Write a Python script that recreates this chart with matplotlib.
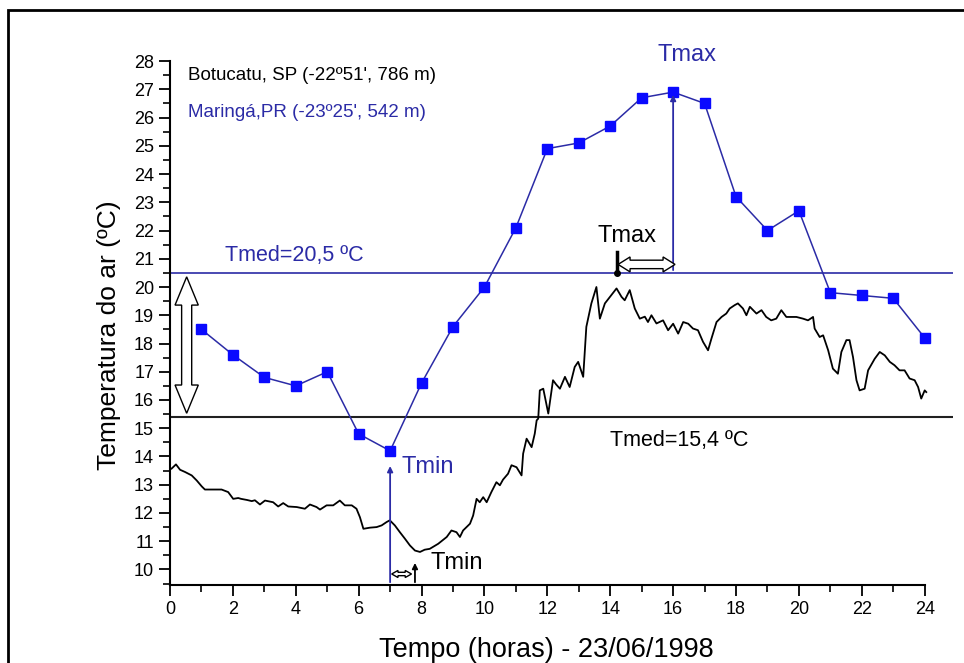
import matplotlib
matplotlib.use("Agg")
import matplotlib.pyplot as plt
from matplotlib.patches import Polygon, Rectangle
from matplotlib.ticker import MultipleLocator

plt.rcParams['font.family'] = ['Liberation Sans', 'DejaVu Sans']

# Maringá, PR - leituras horárias
hora_mga = list(range(1, 25))
temp_mga = [18.5, 17.6, 16.8, 16.5, 17.0, 14.8, 14.2, 16.6, 18.6, 20.0, 22.1, 24.9,
            25.1, 25.7, 26.7, 26.9, 26.5, 23.2, 22.0, 22.7, 19.8, 19.7, 19.6, 18.2]

# Botucatu, SP - registro contínuo (datalogger)
hora_bot = [0.05, 0.19, 0.32, 0.48, 0.69, 0.85, 1.01, 1.11, 1.64, 1.85, 2.01, 2.17, 2.26,
            2.45, 2.6, 2.7, 2.86, 3.02, 3.28, 3.44, 3.6, 3.76, 4.03, 4.29, 4.45, 4.66,
            4.77, 4.98, 5.19, 5.40, 5.56, 5.78, 5.93, 6.04, 6.15, 6.36, 6.57, 6.73, 6.89,
            6.99, 7.15, 7.31, 7.47, 7.63, 7.79, 7.95, 8.1, 8.26, 8.53, 8.8, 8.95, 9.11,
            9.22, 9.32, 9.54, 9.64, 9.75, 9.85, 9.96, 10.07, 10.22, 10.38, 10.49, 10.59,
            10.75, 10.86, 11.02, 11.18, 11.23, 11.34, 11.5, 11.6, 11.66, 11.71, 11.76,
            11.87, 12.03, 12.18, 12.28, 12.4, 12.56, 12.71, 12.87, 12.98, 13.14, 13.24,
            13.4, 13.56, 13.67, 13.83, 13.99, 14.2, 14.36, 14.46, 14.62, 14.78, 14.94,
            15.1, 15.2, 15.31, 15.47, 15.68, 15.84, 16.0, 16.16, 16.32, 16.48, 16.63,
            16.79, 16.95, 17.11, 17.22, 17.38, 17.54, 17.69, 17.8, 17.96, 18.06, 18.22,
            18.33, 18.44, 18.65, 18.81, 18.96, 19.12, 19.28, 19.44, 19.6, 19.71, 19.92,
            20.13, 20.29, 20.45, 20.5, 20.66, 20.77, 20.93, 21.08, 21.24, 21.35, 21.51,
            21.61, 21.72, 21.83, 21.93, 22.09, 22.2, 22.41, 22.57, 22.73, 22.89, 23.04,
            23.2, 23.36, 23.52, 23.68, 23.79, 23.89, 24.0, 24.05]
temp_bot = [13.57, 13.72, 13.53, 13.45, 13.33, 13.15, 12.94, 12.83, 12.83, 12.74, 12.5,
            12.53, 12.5, 12.46, 12.42, 12.45, 12.3, 12.44, 12.38, 12.23, 12.35, 12.23,
            12.21, 12.15, 12.3, 12.21, 12.12, 12.27, 12.27, 12.44, 12.27, 12.27, 12.15,
            11.85, 11.44, 11.48, 11.5, 11.56, 11.68, 11.74, 11.56, 11.32, 11.09, 10.85,
            10.67, 10.62, 10.7, 10.73, 10.91, 11.15, 11.38, 11.32, 11.15, 11.38, 11.62,
            11.91, 12.5, 12.38, 12.56, 12.38, 12.74, 13.09, 12.98, 13.18, 13.39, 13.69,
            13.62, 13.33, 14.1, 14.63, 14.33, 14.81, 15.28, 15.34, 16.34, 16.4, 15.52,
            16.7, 16.55, 16.4, 16.82, 16.46, 17.17, 17.35, 16.82, 18.59, 19.42, 20.0,
            18.88, 19.42, 19.65, 19.95, 19.65, 19.53, 19.89, 19.24, 18.88, 18.95, 18.76,
            19.0, 18.71, 18.82, 18.47, 18.7, 18.35, 18.76, 18.7, 18.53, 18.47, 18.06,
            17.76, 18.18, 18.76, 18.94, 19.06, 19.24, 19.36, 19.42, 19.24, 19.0, 19.3,
            19.06, 19.18, 18.94, 18.82, 18.88, 19.18, 18.94, 18.94, 18.94, 18.88, 18.82,
            18.94, 18.53, 18.23, 18.29, 17.76, 17.11, 16.93, 17.7, 18.12, 18.12, 17.52,
            16.7, 16.34, 16.4, 17.05, 17.46, 17.7, 17.58, 17.35, 17.23, 17.05, 17.05,
            16.76, 16.7, 16.46, 16.05, 16.34, 16.28]

tmed_mga = 20.5
tmed_bot = 15.4
tmin_mga_h, tmin_bot_h = 7.0, 7.79
tmax_bot_h, tmax_mga_h = 14.2, 16.0

azul = '#2b2ba6'
azul_marc = '#0a0aff'

fig = plt.figure(figsize=(9.64, 6.63), dpi=100)
ax = fig.add_axes([170 / 964, 1 - 585 / 663, (953 - 170) / 964, (585 - 55.4) / 663])
ax.set_xlim(0, 24.9)
ax.set_ylim(9.45, 28.2)


def seta_dupla(ax, x0, y0, x1, y1, largura, corpo, cabeca):
    # seta vazada com duas pontas (horizontal ou vertical)
    if y0 == y1:
        y = y0
        w, c = largura / 2, corpo / 2
        pts = [(x0, y), (x0 + cabeca, y + w), (x0 + cabeca, y + c), (x1 - cabeca, y + c),
               (x1 - cabeca, y + w), (x1, y), (x1 - cabeca, y - w), (x1 - cabeca, y - c),
               (x0 + cabeca, y - c), (x0 + cabeca, y - w)]
    else:
        x = x0
        w, c = largura / 2, corpo / 2
        pts = [(x, y0), (x + w, y0 - cabeca), (x + c, y0 - cabeca), (x + c, y1 + cabeca),
               (x + w, y1 + cabeca), (x, y1), (x - w, y1 + cabeca), (x - c, y1 + cabeca),
               (x - c, y0 - cabeca), (x - w, y0 - cabeca)]
    ax.add_patch(Polygon(pts, closed=True, facecolor='white', edgecolor='black',
                         lw=1.0, zorder=4, clip_on=False))


# linhas das médias
ax.axhline(tmed_mga, color=azul, lw=1.2, zorder=2)
ax.axhline(tmed_bot, color='#202020', lw=1.5, zorder=2)

# séries
ax.plot(hora_bot, temp_bot, color='black', lw=1.3, zorder=3)
ax.plot(hora_mga, temp_mga, color=azul, lw=1.1, marker='s', markersize=7,
        markerfacecolor=azul_marc, markeredgecolor=azul_marc, zorder=3)

# setas de Tmin / Tmax
y_base = ax.get_ylim()[0]
ax.annotate('', xy=(tmin_mga_h, 13.76), xytext=(tmin_mga_h, y_base),
            arrowprops=dict(arrowstyle='-|>', color=azul, lw=1.3, mutation_scale=8))
ax.annotate('', xy=(tmin_bot_h, 10.33), xytext=(tmin_bot_h, y_base),
            arrowprops=dict(arrowstyle='-|>', color='black', lw=1.3, mutation_scale=8))
ax.annotate('', xy=(tmax_mga_h, max(temp_mga)), xytext=(tmax_mga_h, tmed_mga),
            arrowprops=dict(arrowstyle='-|>', color=azul, lw=1.3, mutation_scale=8))
ax.plot([tmax_bot_h, tmax_bot_h], [tmed_mga, 21.25], color='black', lw=2.5, zorder=4)
ax.plot([tmax_bot_h], [tmed_mga], 'o', color='black', markersize=4, zorder=4)

seta_dupla(ax, 0.53, 20.36, 0.53, 15.53, largura=0.74, corpo=0.32, cabeca=1.0)
seta_dupla(ax, 14.25, 20.8, 16.06, 20.8, largura=0.53, corpo=0.3, cabeca=0.38)
seta_dupla(ax, 7.05, 9.84, 7.68, 9.84, largura=0.25, corpo=0.12, cabeca=0.2)

# textos
ax.text(0.57, 27.5, "Botucatu, SP (-22º51', 786 m)", fontsize=13.5, color='black', va='center')
ax.text(0.57, 26.19, "Maringá,PR (-23º25', 542 m)", fontsize=13.5, color=azul, va='center')
ax.text(16.44, 28.21, 'Tmax', fontsize=17, color=azul, ha='center', va='center', clip_on=False)
ax.text(1.75, 21.13, 'Tmed=20,5 ºC', fontsize=15.5, color=azul, va='center')
ax.text(13.6, 21.8, 'Tmax', fontsize=17, color='black', va='center')
ax.text(13.99, 14.58, 'Tmed=15,4 ºC', fontsize=15.5, color='black', va='center')
ax.text(7.37, 13.63, 'Tmin', fontsize=17, color=azul, va='center')
ax.text(8.27, 10.23, 'Tmin', fontsize=17, color='black', va='center')

# eixos
for s in ['top', 'right']:
    ax.spines[s].set_visible(False)
ax.spines['bottom'].set_bounds(0, 24)
ax.spines['left'].set_bounds(y_base, 28)
ax.spines['bottom'].set_linewidth(1.5)
ax.spines['left'].set_linewidth(1.5)
ax.xaxis.set_major_locator(MultipleLocator(2))
ax.xaxis.set_minor_locator(MultipleLocator(1))
ax.yaxis.set_major_locator(MultipleLocator(1))
ax.yaxis.set_minor_locator(MultipleLocator(0.5))
ax.set_xticks(range(0, 25, 2))
ax.set_yticks(range(10, 29))
ax.tick_params(which='major', direction='out', length=8, width=1.3, labelsize=13)
ax.tick_params(which='minor', direction='out', length=5, width=1.2)
ax.set_xlabel('Tempo (horas) - 23/06/1998', fontsize=19.5)
ax.xaxis.label.set_va('center')
ax.xaxis.set_label_coords(0.481, -0.123)
ax.set_ylabel('Temperatura do ar (ºC)', fontsize=19)
ax.yaxis.label.set_va('center')
ax.yaxis.set_label_coords(-0.078, 0.472)

# moldura da figura
fig.patches.append(Rectangle((8 / 964, -0.1), 1.2, 1 - 10 / 663 + 0.1, transform=fig.transFigure,
                             fill=False, edgecolor='black', lw=2))

fig.savefig('out.png', dpi=100)
